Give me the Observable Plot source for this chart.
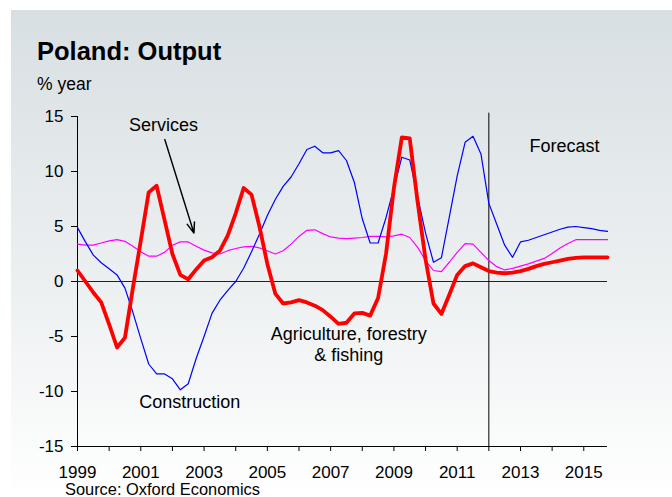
<!DOCTYPE html>
<html>
<head>
<meta charset="utf-8">
<script src="https://cdn.jsdelivr.net/npm/d3@7"></script>
<script src="https://cdn.jsdelivr.net/npm/@observablehq/plot@0.6"></script>
<style>
  body { margin: 0; width: 672px; height: 497px; overflow: hidden; background: #fff; font-family: "Liberation Sans", Arial, sans-serif; }
  #bg { position: absolute; left: 11px; top: 10px; width: 661px; height: 487px; background: linear-gradient(to bottom, #d8dfe2 0%, #eef1f2 60%, #ffffff 100%); }
  #chart { position: absolute; left: 0; top: 0; }
  .t { position: absolute; line-height: 1; white-space: nowrap; color: #000; }
  #title { left: 37px; top: 39px; font-size: 25.5px; font-weight: bold; }
  #sub { left: 37px; top: 76px; font-size: 17.5px; }
  #src { left: 65px; top: 481px; font-size: 16.4px; }
</style>
</head>
<body>
<div id="bg"></div>
<div id="chart"></div>
<div class="t" id="title">Poland: Output</div>
<div class="t" id="sub">% year</div>
<div class="t" id="src">Source: Oxford Economics</div>
<script>
// Quarterly data, 1999 Q1 .. 2015 Q4 (% year)
const startYear = 1999;
const agriculture = [
  1.0, 0.0, -1.0, -1.9, -3.9, -6.0, -5.1, -0.6,
  3.7, 8.1, 8.7, 5.6, 2.5, 0.6, 0.2, 1.1,
  1.9, 2.2, 2.8, 4.2, 6.2, 8.5, 7.9, 5.0,
  1.6, -1.1, -2.0, -1.9, -1.7, -1.9, -2.2, -2.6,
  -3.2, -3.85, -3.75, -2.9, -2.85, -3.1, -1.5, 2.5,
  8.5, 13.1, 13.0, 7.2, 2.0, -2.0, -2.95, -1.2,
  0.6, 1.4, 1.65, 1.3, 0.95, 0.8, 0.75, 0.8,
  0.95, 1.15, 1.4, 1.6, 1.75, 1.9, 2.05, 2.15,
  2.2, 2.2, 2.2, 2.2
];
const construction = [
  4.9, 3.6, 2.4, 1.7, 1.15, 0.6, -0.6, -2.8,
  -5.2, -7.5, -8.4, -8.4, -8.85, -9.85, -9.3, -7.0,
  -5.0, -2.9, -1.7, -0.8, 0.0, 1.2, 2.7, 4.3,
  6.0, 7.45, 8.65, 9.5, 10.7, 12.0, 12.3, 11.7,
  11.7, 11.9, 11.0, 9.0, 5.7, 3.5, 3.5, 5.8,
  8.5, 11.3, 11.05, 7.7, 4.4, 1.75, 2.15, 5.85,
  9.6, 12.65, 13.2, 11.6, 7.1, 5.2, 3.3, 2.2,
  3.6, 3.75, 4.0, 4.25, 4.5, 4.75, 4.95, 5.0,
  4.9, 4.8, 4.65, 4.55
];
const services = [
  3.4, 3.3, 3.3, 3.5, 3.7, 3.8, 3.65, 3.2,
  2.7, 2.3, 2.3, 2.65, 3.3, 3.6, 3.6, 3.2,
  2.85, 2.6, 2.5, 2.8, 3.0, 3.15, 3.2, 3.05,
  2.8, 2.5, 2.8, 3.4, 4.1, 4.65, 4.7, 4.35,
  4.05, 3.95, 3.9, 3.95, 4.0, 4.1, 4.1, 4.05,
  4.15, 4.3, 4.0, 3.1, 1.9, 1.0, 0.9, 1.75,
  2.65, 3.45, 3.4, 2.65, 1.9, 1.35, 1.05, 1.2,
  1.4, 1.6, 1.85, 2.1, 2.55, 3.05, 3.45, 3.8,
  3.8, 3.8, 3.8, 3.8
];
const xTickYears = [1999, 2000, 2001, 2002, 2003, 2004, 2005, 2006, 2007, 2008, 2009, 2010, 2011, 2012, 2013, 2014, 2015];
const xLabelYears = [1999, 2001, 2003, 2005, 2007, 2009, 2011, 2013, 2015];
const yTicks = [-15, -10, -5, 0, 5, 10, 15];
const forecastYear = 2012;
const seriesLabels = ["Services", "Construction", "Agriculture, forestry\n& fishing"];
const forecastLabel = "Forecast";

const toRows = (arr) => arr.map((v, i) => ({ t: startYear + i / 4, v }));
const agriRows = toRows(agriculture);
const consRows = toRows(construction);
const servRows = toRows(services);

const chart = Plot.plot({
  width: 672,
  height: 497,
  marginLeft: 77,
  marginRight: 65,
  marginTop: 116,
  marginBottom: 51,
  style: { background: "transparent", fontFamily: "'Liberation Sans', Arial, sans-serif", fontSize: "17px", color: "#000" },
  x: { domain: [1999, 2015.75] },
  y: { domain: [-15, 15] },
  marks: [
    Plot.axisX({ ticks: xTickYears, tickFormat: d => xLabelYears.includes(d) ? String(d) : "", tickSize: 5, tickPadding: 14, label: null, fontSize: 17 }),
    Plot.axisY({ ticks: yTicks, tickFormat: d => String(d), tickSize: 6, tickPadding: 8, label: null, fontSize: 17 }),
    Plot.ruleX([1999], { y1: -15, y2: 15, stroke: "#000" }),
    Plot.ruleY([-15], { stroke: "#000" }),
    Plot.ruleY([0], { stroke: "#222" }),
    Plot.ruleX([forecastYear], { y1: -15, y2: 15.3, stroke: "#000" }),
    Plot.line(servRows, { x: "t", y: "v", stroke: "#ff00ff", strokeWidth: 1.2 }),
    Plot.line(consRows, { x: "t", y: "v", stroke: "#0000ff", strokeWidth: 1.2 }),
    Plot.line(agriRows, { x: "t", y: "v", stroke: "#ff0000", strokeWidth: 3.8 }),
    Plot.text([seriesLabels[0]], { x: 2001.72, y: 14.18, text: d => d, fontSize: 18, fill: "#000" }),
    Plot.text([seriesLabels[1]], { x: 2002.55, y: -10.97, text: d => d, fontSize: 18, fill: "#000" }),
    Plot.text([seriesLabels[2]], { x: 2007.57, y: -5.64, text: d => d, fontSize: 18, fill: "#000", lineHeight: 1.2 }),
    Plot.text([forecastLabel], { x: 2014.39, y: 12.3, text: d => d, fontSize: 18, fill: "#000" }),
    Plot.arrow([0], { x1: 2001.76, y1: 12.9, x2: 2002.68, y2: 4.4, stroke: "#000", strokeWidth: 1.5, headLength: 11, headAngle: 40 })
  ]
});
document.getElementById("chart").appendChild(chart);
</script>
</body>
</html>
